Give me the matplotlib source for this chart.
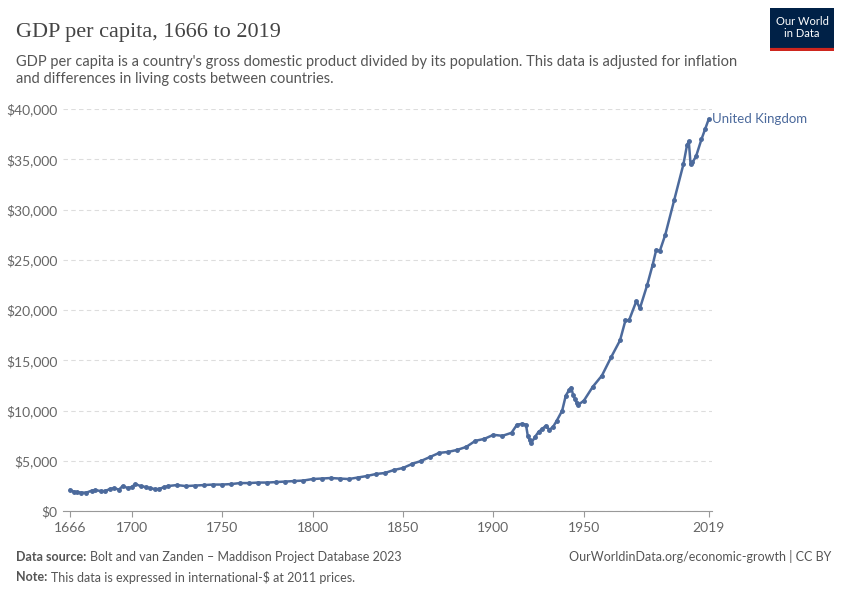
import matplotlib
matplotlib.use("Agg")
import matplotlib.pyplot as plt

years = [1666,1668,1670,1672,1675,1678,1680,1683,1685,1688,1690,1693,1695,1698,1700,1702,1705,1708,1710,1713,1715,1718,1720,1725,1730,1735,1740,1745,1750,1755,1760,1765,1770,1775,1780,1785,1790,1795,1800,1805,1810,1815,1820,1825,1830,1835,1840,1845,1850,1855,1860,1865,1870,1875,1880,1885,1890,1895,1900,1905,1910,1913,1916,1918,1919,1920,1921,1923,1925,1927,1929,1931,1933,1935,1938,1940,1942,1943,1944,1945,1946,1947,1950,1955,1960,1965,1970,1973,1975,1979,1981,1985,1988,1990,1992,1995,2000,2005,2007,2008,2009,2010,2012,2015,2017,2019]
gdp = [2100,1950,1900,1850,1850,2050,2100,2000,2000,2200,2300,2150,2500,2300,2400,2700,2500,2400,2300,2200,2200,2400,2500,2600,2500,2550,2600,2650,2650,2700,2800,2800,2850,2850,2900,2950,3000,3050,3200,3250,3300,3250,3200,3350,3500,3700,3800,4100,4300,4700,5000,5400,5800,5900,6100,6400,7000,7200,7600,7500,7800,8600,8700,8600,7500,7100,6800,7400,7900,8200,8500,8100,8400,9000,10000,11500,12100,12300,11600,11200,10800,10600,11000,12400,13500,15300,17000,19000,19000,20900,20200,22500,24500,26000,25900,27500,31000,34500,36400,36800,34500,34700,35300,37000,38000,39000]

plt.rcParams['font.family'] = ['Lato', 'DejaVu Sans']
fig = plt.figure(figsize=(8.5, 6), dpi=100)
ax = fig.add_axes([0.074, 0.148, 0.764, 0.67])
c = "#4c6a9c"
ax.plot(years, gdp, color=c, lw=1.8, marker="o", ms=2.5)
ax.set_xlim(1662, 2021)
ax.set_ylim(0, 40000)
yt = list(range(0, 40001, 5000))
ax.set_yticks(yt)
ax.set_yticklabels(["$0"] + [f"${v:,}" for v in yt[1:]], color="#666", fontsize=10)
xt = [1666, 1700, 1750, 1800, 1850, 1900, 1950, 2019]
ax.set_xticks(xt)
ax.set_xticklabels([str(v) for v in xt], color="#666", fontsize=10)
ax.grid(axis="y", color="#ddd", ls=(0, (4, 3)), lw=0.8)
for s in ["top", "right", "left"]:
    ax.spines[s].set_visible(False)
ax.spines["bottom"].set_color("#999")
ax.tick_params(axis="y", length=0, pad=4)
ax.tick_params(axis="x", length=4, color="#999")
ax.text(2021, 39000, "United Kingdom", color=c, fontsize=9.5, va="center")

fig.text(0.019, 0.945, "GDP per capita, 1666 to 2019", fontsize=16, family=["Liberation Serif", "DejaVu Serif"], color="#444", va="center")
fig.text(0.019, 0.882, "GDP per capita is a country's gross domestic product divided by its population. This data is adjusted for inflation\nand differences in living costs between countries.", fontsize=10.5, color="#555", va="center", linespacing=1.25)

r = fig.canvas.get_renderer()
def label(y, bold, rest):
    t = fig.text(0.019, y, bold, fontsize=9, color="#555", va="center", weight="bold")
    w = t.get_window_extent(r).width / fig.bbox.width
    fig.text(0.019 + w + 0.004, y, rest, fontsize=9, color="#555", va="center")
label(0.072, "Data source:", "Bolt and van Zanden – Maddison Project Database 2023")
label(0.038, "Note:", "This data is expressed in international-$ at 2011 prices.")
fig.text(0.978, 0.072, "OurWorldinData.org/economic-growth | CC BY", fontsize=9, color="#555", va="center", ha="right")
lx = fig.add_axes([0.906, 0.915, 0.075, 0.072])
lx.set_xticks([]); lx.set_yticks([])
lx.set_facecolor("#002147")
for s in lx.spines.values(): s.set_visible(False)
lx.text(0.5, 0.55, "Our World\nin Data", color="white", fontsize=8, ha="center", va="center", transform=lx.transAxes, linespacing=1.1)
lx.axhline(0.03, color="#ce261e", lw=3)
fig.savefig("out.png")
